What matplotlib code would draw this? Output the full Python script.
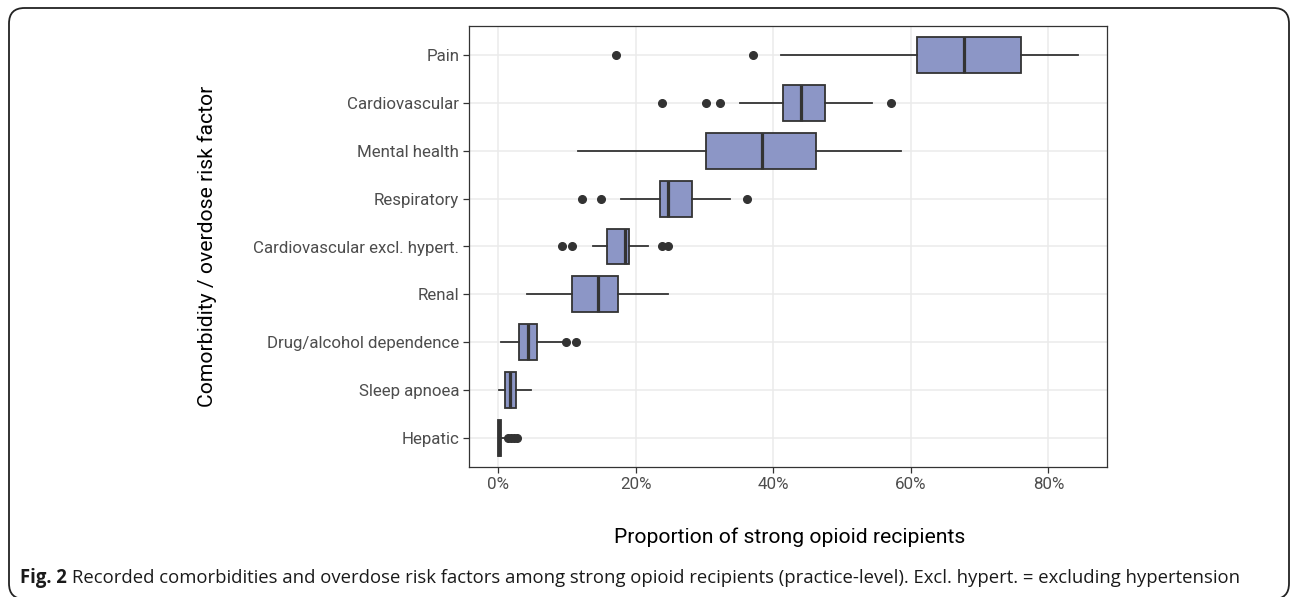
import matplotlib
matplotlib.use("Agg")
import matplotlib.pyplot as plt
from matplotlib.patches import FancyBboxPatch
from matplotlib.ticker import FixedLocator, FuncFormatter

# ---- data (percent of strong opioid recipients, practice-level) ----
categories = ["Pain", "Cardiovascular", "Mental health", "Respiratory",
              "Cardiovascular excl. hypert.", "Renal", "Drug/alcohol dependence",
              "Sleep apnoea", "Hepatic"]
q1 = [60.9, 41.4, 30.3, 23.5, 15.9, 10.8, 3.1, 1.0, 0.0]
median = [67.7, 44.0, 38.3, 24.7, 18.5, 14.5, 4.4, 1.8, 0.2]
q3 = [76.0, 47.5, 46.2, 28.2, 19.1, 17.5, 5.7, 2.7, 0.5]
whisker_lo = [41.1, 35.2, 11.6, 17.9, 13.8, 4.2, 0.5, 0.1, 0.0]
whisker_hi = [84.3, 54.3, 58.6, 33.7, 21.8, 24.7, 9.5, 4.8, 1.0]
outliers = [
    [17.2, 37.1],
    [23.9, 30.3, 32.3, 57.1],
    [],
    [12.2, 15.0, 36.2],
    [9.3, 10.7, 23.8, 24.7],
    [],
    [9.9, 11.4],
    [],
    [1.5, 1.9, 2.3, 2.8],
]
x_ticks = [0, 20, 40, 60, 80]

W, H = 1292, 597
fig = plt.figure(figsize=(W / 100, H / 100), dpi=100)

label_font = ["Roboto", "DejaVu Sans"]
cap_font = ["Open Sans", "DejaVu Sans"]

ax = fig.add_axes([469 / W, 1 - 467 / H, (1107 - 469) / W, (467 - 26) / H])

stats = []
for i, c in enumerate(categories):
    stats.append(dict(label=c, q1=q1[i], med=median[i], q3=q3[i],
                      whislo=whisker_lo[i], whishi=whisker_hi[i],
                      fliers=outliers[i]))

n = len(categories)
positions = list(range(n, 0, -1))
edge = "#333333"
ax.bxp(stats, positions=positions, vert=False, widths=0.75, patch_artist=True,
       showcaps=False,
       boxprops=dict(facecolor="#8C96C6", edgecolor=edge, linewidth=1.3),
       medianprops=dict(color=edge, linewidth=2.3),
       whiskerprops=dict(color=edge, linewidth=1.3),
       flierprops=dict(marker="o", markerfacecolor=edge, markeredgecolor=edge,
                       markersize=5.5, linestyle="none"),
       zorder=3)

ax.set_xlim(-4.2, 88.5)
ax.set_ylim(0.4, n + 0.6)
ax.xaxis.set_major_locator(FixedLocator(x_ticks))
ax.xaxis.set_major_formatter(FuncFormatter(lambda v, p: f"{v:.0f}%"))
ax.set_yticks(positions)
ax.set_yticklabels(categories)

ax.grid(True, color="#EBEBEB", linewidth=1.1, zorder=0)
ax.set_axisbelow(True)
for s in ax.spines.values():
    s.set_color("#333333")
    s.set_linewidth(0.9)
ax.tick_params(axis="both", length=4, width=0.9, color="#333333",
               labelcolor="#4D4D4D", labelsize=12.2, pad=3)
for lab in ax.get_xticklabels() + ax.get_yticklabels():
    lab.set_family(label_font)

ax.set_xlabel("Proportion of strong opioid recipients", fontsize=15.2,
              family=label_font, color="black")
ax.set_ylabel("Comorbidity / overdose risk factor", fontsize=15.2,
              family=label_font, color="black")
ax.xaxis.set_label_coords((790 - 469) / (1107 - 469), (467 - 537) / (467 - 26))
ax.xaxis.label.set_va("center")
ax.yaxis.set_label_coords((207 - 469) / (1107 - 469), 0.5)
ax.yaxis.label.set_va("center")

# outer rounded frame
frame = FancyBboxPatch((9 / W, -2 / H), (1289 - 9) / W, (591) / H,
                       boxstyle="round,pad=0,rounding_size=0.012",
                       transform=fig.transFigure, fill=False,
                       edgecolor="#222222", linewidth=1.3,
                       mutation_aspect=W / H, clip_on=False)
fig.patches.append(frame)

# caption (fit to the reference width)
cap_size = 14.0
base_y = 1 - 583 / H
t1 = fig.text(20 / W, base_y, "Fig. 2", fontsize=cap_size, fontweight="bold",
              family=cap_font, color="#1a1a1a", va="baseline")
t2 = fig.text(0, base_y,
              "Recorded comorbidities and overdose risk factors among strong opioid "
              "recipients (practice-level). Excl. hypert. = excluding hypertension",
              fontsize=cap_size, family=cap_font, color="#1a1a1a", va="baseline")
fig.canvas.draw()
r = fig.canvas.get_renderer()
w_total = t1.get_window_extent(r).width + 6 + t2.get_window_extent(r).width
new_size = cap_size * 1230 / w_total
t1.set_fontsize(new_size)
t2.set_fontsize(new_size)
fig.canvas.draw()
bb = t1.get_window_extent(r)
t2.set_x((bb.x1 + 5) / W)

fig.savefig("out.png", dpi=100)
